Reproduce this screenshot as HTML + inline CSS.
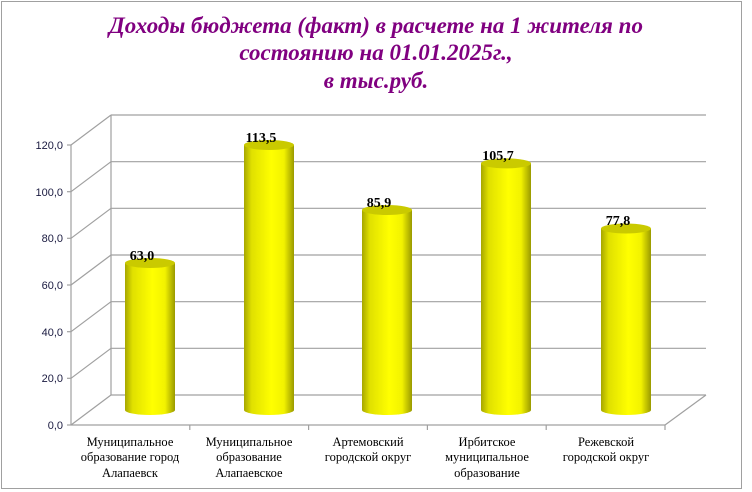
<!DOCTYPE html>
<html><head><meta charset="utf-8"><style>
body{margin:0;background:#fff}
svg{display:block}
</style></head><body>
<svg width="752" height="492" viewBox="0 0 752 492" xmlns="http://www.w3.org/2000/svg">
<defs>
<linearGradient id="cyl" x1="0" x2="1" y1="0" y2="0">
<stop offset="0" stop-color="#a6a600"/>
<stop offset="0.15" stop-color="#e0e000"/>
<stop offset="0.55" stop-color="#ffff00"/>
<stop offset="0.8" stop-color="#f2f200"/>
<stop offset="1" stop-color="#9a9a00"/>
</linearGradient>
</defs>
<rect x="1.5" y="1.5" width="740" height="487" fill="#fff" stroke="#a0a0a0"/>
<g font-family="'Liberation Serif','Noto Serif CJK SC',serif" font-style="italic" font-weight="bold" font-size="23" fill="#800080" text-anchor="middle">
<text x="376" y="33">Доходы бюджета (факт) в расчете на 1 жителя по</text>
<text x="376" y="60">состоянию на 01.01.2025г.,</text>
<text x="376" y="88">в тыс.руб.</text>
</g>
<g stroke="#a0a0a0" stroke-width="1.2" fill="none">
<line x1="111" y1="115" x2="111" y2="395"/>
<line x1="111" y1="115" x2="706" y2="115"/><line x1="71" y1="145" x2="111" y2="115"/>
<line x1="111" y1="161.7" x2="706" y2="161.7"/><line x1="71" y1="191.7" x2="111" y2="161.7"/>
<line x1="111" y1="208.3" x2="706" y2="208.3"/><line x1="71" y1="238.3" x2="111" y2="208.3"/>
<line x1="111" y1="255" x2="706" y2="255"/><line x1="71" y1="285" x2="111" y2="255"/>
<line x1="111" y1="301.7" x2="706" y2="301.7"/><line x1="71" y1="331.7" x2="111" y2="301.7"/>
<line x1="111" y1="348.3" x2="706" y2="348.3"/><line x1="71" y1="378.3" x2="111" y2="348.3"/>
<line x1="111" y1="395" x2="706" y2="395"/><line x1="71" y1="425" x2="111" y2="395"/>
<line x1="665" y1="425" x2="706" y2="395"/>
<line x1="71" y1="145" x2="71" y2="425"/>
<line x1="71" y1="425" x2="665" y2="425"/>
<line x1="67" y1="145" x2="71" y2="145"/><line x1="67" y1="191.7" x2="71" y2="191.7"/><line x1="67" y1="238.3" x2="71" y2="238.3"/><line x1="67" y1="285" x2="71" y2="285"/><line x1="67" y1="331.7" x2="71" y2="331.7"/><line x1="67" y1="378.3" x2="71" y2="378.3"/><line x1="67" y1="425" x2="71" y2="425"/>
<line x1="189.8" y1="425" x2="189.8" y2="430"/><line x1="308.6" y1="425" x2="308.6" y2="430"/><line x1="427.4" y1="425" x2="427.4" y2="430"/><line x1="546.2" y1="425" x2="546.2" y2="430"/><line x1="665" y1="425" x2="665" y2="430"/>
</g>
<g font-family="'Liberation Sans','DejaVu Sans',sans-serif" font-size="11" fill="#1a1a40" text-anchor="end">
<text x="63" y="149">120,0</text><text x="63" y="196">100,0</text><text x="63" y="242">80,0</text><text x="63" y="289">60,0</text><text x="63" y="336">40,0</text><text x="63" y="382">20,0</text><text x="63" y="429">0,0</text>
</g>
<g>
<path d="M125 263 V410 A25 5 0 0 0 175 410 V263 Z" fill="url(#cyl)"/><ellipse cx="150" cy="263" rx="25" ry="5" fill="#caca00"/>
<path d="M244 145 V410 A25 5 0 0 0 294 410 V145 Z" fill="url(#cyl)"/><ellipse cx="269" cy="145" rx="25" ry="5" fill="#caca00"/>
<path d="M362 210 V410 A25 5 0 0 0 412 410 V210 Z" fill="url(#cyl)"/><ellipse cx="387" cy="210" rx="25" ry="5" fill="#caca00"/>
<path d="M481 163.4 V410 A25 5 0 0 0 531 410 V163.4 Z" fill="url(#cyl)"/><ellipse cx="506" cy="163.4" rx="25" ry="5" fill="#caca00"/>
<path d="M601 228.5 V410 A25 5 0 0 0 651 410 V228.5 Z" fill="url(#cyl)"/><ellipse cx="626" cy="228.5" rx="25" ry="5" fill="#caca00"/>
</g>
<g font-family="'Liberation Serif',serif" font-weight="bold" font-size="14" fill="#000" text-anchor="middle">
<text x="142" y="260">63,0</text><text x="261" y="142">113,5</text><text x="379" y="207">85,9</text><text x="498" y="160">105,7</text><text x="618" y="225">77,8</text>
</g>
<g font-family="'Liberation Serif','Noto Serif CJK SC',serif" font-size="12.5" fill="#000" text-anchor="middle">
<text x="130" y="446">Муниципальное</text><text x="130" y="461">образование город</text><text x="130" y="477">Алапаевск</text>
<text x="249" y="446">Муниципальное</text><text x="249" y="461">образование</text><text x="249" y="477">Алапаевское</text>
<text x="368" y="446">Артемовский</text><text x="368" y="461">городской округ</text>
<text x="487" y="446">Ирбитское</text><text x="487" y="461">муниципальное</text><text x="487" y="477">образование</text>
<text x="606" y="446">Режевской</text><text x="606" y="461">городской округ</text>
</g>
</svg>
</body></html>
